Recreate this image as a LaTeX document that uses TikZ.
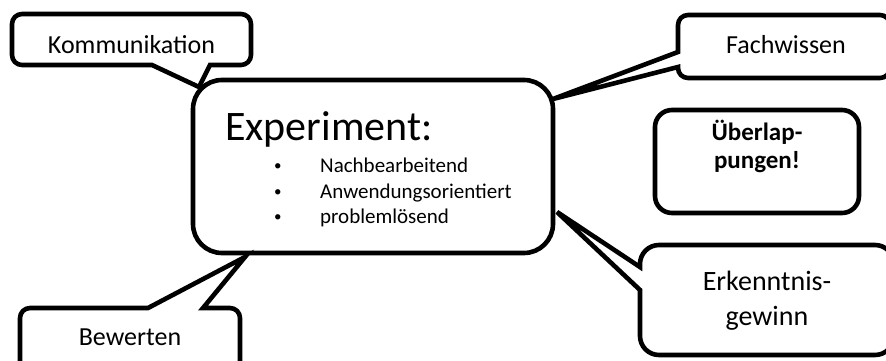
\documentclass[tikz,border=0pt]{standalone}
\usepackage{fontspec}
\setmainfont{Carlito}
\begin{document}
\begin{tikzpicture}[x=1pt,y=1pt,
  outline/.style={draw=black,line width=4.6pt,fill=white,line join=miter},
  boxnode/.style={outline,inner sep=0pt,outer sep=0pt},
  lbl/.style={inner sep=0pt,font=\fontsize{26}{30}\selectfont},
  bul/.style={inner sep=0pt,anchor=base west,font=\fontsize{21}{25}\selectfont},
  dot/.style={inner sep=0pt,anchor=base west,font=\fontsize{15}{18}\selectfont}]
\useasboundingbox (0,0) rectangle (886,360);
\clip (0,0) rectangle (886,360);

% main box
\node[boxnode,rounded corners=29pt,minimum width=360pt,minimum height=173pt] (exp) at (373,193.5) {};

% Ueberlappungen box
\node[boxnode,rounded corners=17pt,minimum width=204pt,minimum height=103pt] (ueb) at (757,198.5) {};

% Kommunikation callout
\draw[outline] (22,346) -- (241,346) arc[start angle=90,end angle=0,radius=10]
  -- (251,305) arc[start angle=0,end angle=-90,radius=10]
  -- (210,295) -- (199,273) coordinate (ktip) -- (152,295)
  -- (22,295) arc[start angle=270,end angle=180,radius=10]
  -- (12,336) arc[start angle=180,end angle=90,radius=10] -- cycle;

% Fachwissen callout
\draw[outline] (688,345) -- (880,345) arc[start angle=90,end angle=0,radius=10]
  -- (890,292) arc[start angle=0,end angle=-90,radius=10]
  -- (688,282) arc[start angle=270,end angle=180,radius=10]
  -- (678,293) -- (553,261) coordinate (ftip) -- (678,308)
  -- (678,335) arc[start angle=180,end angle=90,radius=10] -- cycle;

% Erkenntnisgewinn callout
\draw[outline] (659,115) -- (875,115) arc[start angle=90,end angle=0,radius=19]
  -- (894,24) arc[start angle=0,end angle=-90,radius=19]
  -- (659,5) arc[start angle=270,end angle=180,radius=19]
  -- (640,70) -- (557,148) coordinate (etip) -- (640,93)
  -- (640,96) arc[start angle=180,end angle=90,radius=19] -- cycle;

% Bewerten callout
\draw[outline] (30,52) -- (148,52) -- (245,103) coordinate (btip) -- (203,52)
  -- (230,52) arc[start angle=90,end angle=0,radius=10]
  -- (240,-2) arc[start angle=0,end angle=-90,radius=10]
  -- (30,-12) arc[start angle=270,end angle=180,radius=10]
  -- (20,42) arc[start angle=180,end angle=90,radius=10] -- cycle;

% texts
\node[lbl,anchor=base] (komm) at (131.5,307) {Kommunikation};
\node[lbl,anchor=base] (fach) at (786,307) {Fachwissen};
\node[lbl,anchor=base] (bew) at (130,15) {Bewerten};
\node[inner sep=0pt,anchor=base,font=\fontsize{28}{32}\selectfont] (erk1) at (767,70) {Erkenntnis-};
\node[inner sep=0pt,anchor=base,font=\fontsize{28}{32}\selectfont] (erk2) at (767,35) {gewinn};
\node[inner sep=0pt,anchor=base,font=\bfseries\fontsize{25}{29}\selectfont] (ueb1) at (757,220) {Überlap-};
\node[inner sep=0pt,anchor=base,font=\bfseries\fontsize{25}{29}\selectfont] (ueb2) at (757,192) {pungen!};
\node[inner sep=0pt,anchor=base west,font=\fontsize{42}{46}\selectfont] (title) at (225,220) {Experiment:};
\node[dot] (b1) at (274,190) {•};
\node[dot] (b2) at (274,164) {•};
\node[dot] (b3) at (274,139) {•};
\node[bul] (t1) at (320,188) {Nachbearbeitend};
\node[bul] (t2) at (320,162) {Anwendungsorientiert};
\node[bul] (t3) at (320,137) {problemlösend};
\end{tikzpicture}
\end{document}
